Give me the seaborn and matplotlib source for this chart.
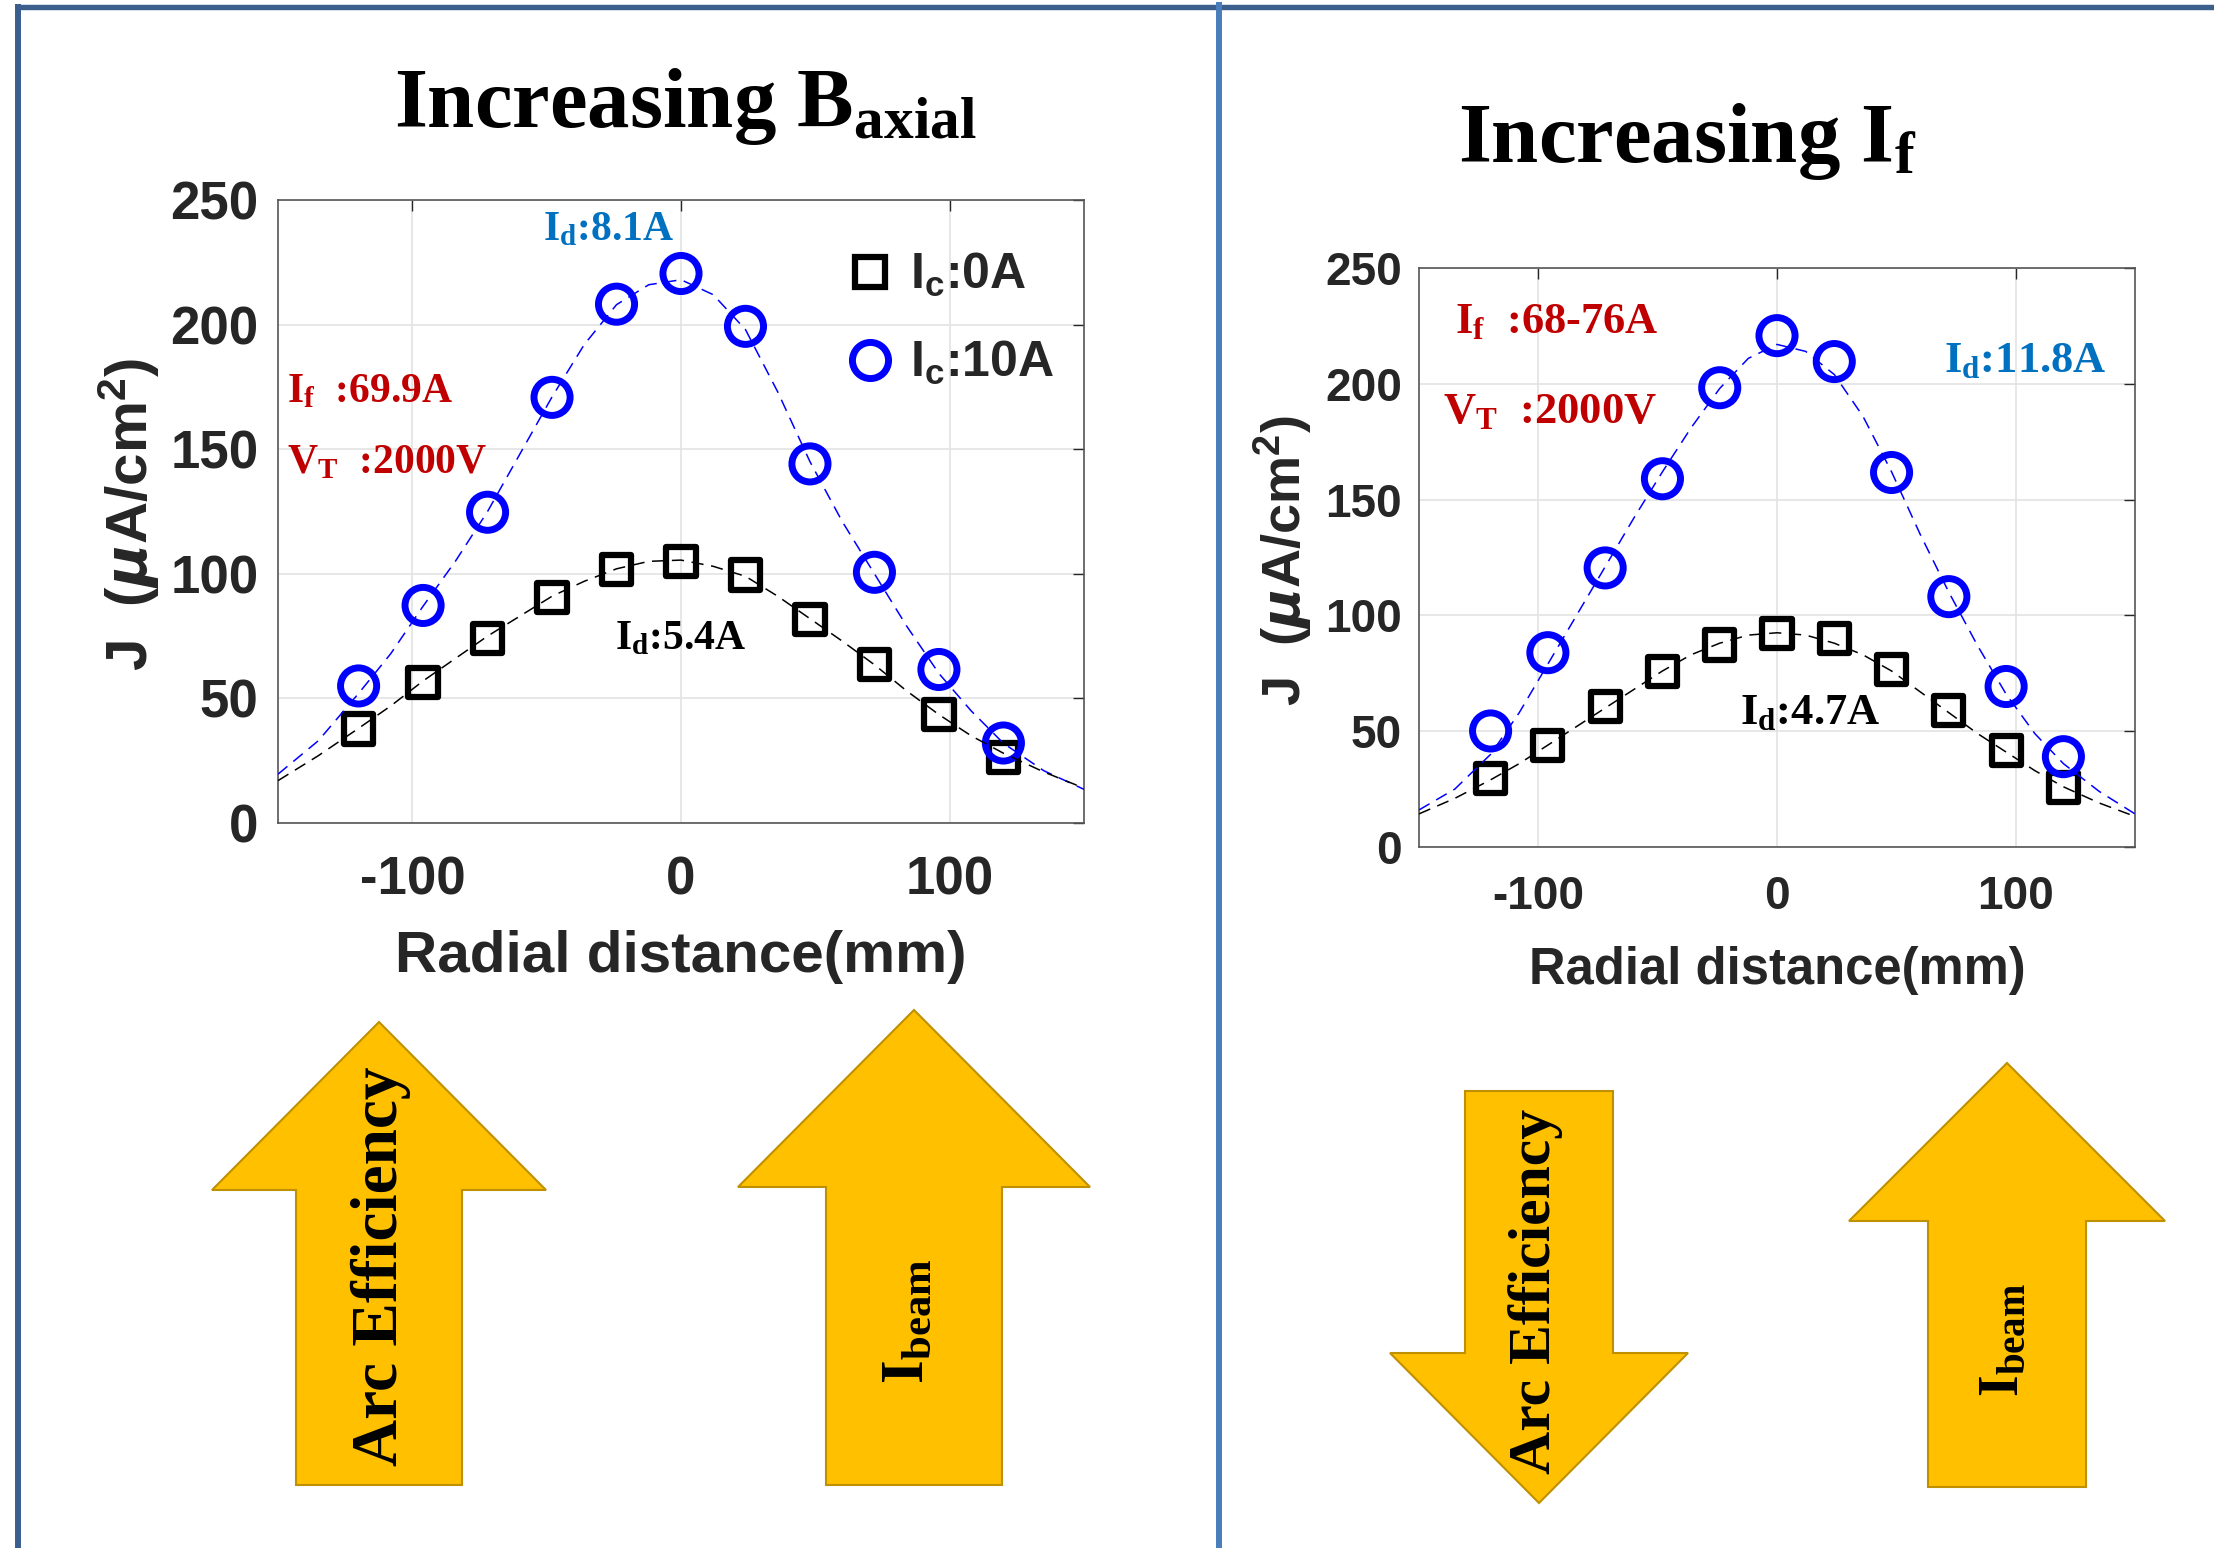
#!/usr/bin/env python3
"""
J radial profiles (Ic = 0A / 10A) for increasing B_axial and increasing I_f,
with the trend arrows underneath.
"""
import seaborn as sns
import matplotlib.pyplot as plt
from matplotlib.patches import Polygon
from matplotlib.lines import Line2D

# measured points (mm, uA/cm2)
radial = [-120, -96, -72, -48, -24, 0, 24, 48, 72, 96, 120]
left_ic0 = [37.7, 56.3, 74.1, 90.6, 101.8, 105.1, 99.5, 81.7, 63.6, 43.5, 26.2]
left_ic10 = [55.0, 87.3, 124.7, 170.8, 208.2, 220.5, 199.3, 144.1, 100.6, 61.6, 32.1]
right_ic0 = [29.4, 44.0, 60.5, 75.6, 87.2, 92.1, 89.9, 76.5, 59.1, 41.8, 25.6]
right_ic10 = [50.1, 83.9, 120.5, 159.0, 198.3, 220.8, 209.6, 161.7, 108.1, 69.3, 39.0]

# fitted curves
fit_x = [-150, -135, -120, -108, -96, -84, -72, -60, -48, -36, -24, -12, 0,
         12, 24, 36, 48, 60, 72, 84, 96, 108, 120, 135, 150]
left_fit_ic10 = [19.6, 33, 52, 68, 87, 105, 125, 148, 171, 192, 208, 216, 218,
                 212, 198, 173, 145, 121, 100, 79, 60, 45, 32, 21, 13.5]
left_fit_ic0 = [17, 27, 38, 47, 57, 66, 75, 83, 91, 97, 102, 105, 105.5,
                103, 99, 91, 82, 73, 63.5, 53, 43.5, 35, 28, 20.5, 14]
right_fit_ic10 = [16, 25, 40, 58, 79, 100, 121, 142, 162, 181, 198, 211, 217,
                  214, 204, 186, 162, 135, 110, 87, 66, 49, 36, 24, 14.3]
right_fit_ic0 = [14.3, 21, 29, 36, 44, 52, 60, 68, 76, 83, 88, 91.5, 92.5,
                 91.5, 88, 83, 76, 67, 58, 49, 41, 33, 26, 19, 13.2]

x_ticks = [-100, 0, 100]
y_ticks = [0, 50, 100, 150, 200, 250]
legend_labels = ["I$_c$:0A", "I$_c$:10A"]

RED = "#C00000"
LBLUE = "#0070C0"
GOLD = "#FFC000"
GOLD_EDGE = "#BF9000"
SERIF = ["Liberation Serif", "DejaVu Serif"]

sns.set_style("white")
plt.rcParams["font.family"] = ["Liberation Sans", "DejaVu Sans"]
plt.rcParams["font.weight"] = "bold"
plt.rcParams["mathtext.default"] = "regular"
plt.rcParams["axes.unicode_minus"] = False

W, H = 2214, 1548
fig = plt.figure(figsize=(W / 100, H / 100), dpi=100)

# background layer in pixel coords: frame lines, arrows, titles
bg = fig.add_axes([0, 0, 1, 1], zorder=0)
bg.set_xlim(0, W)
bg.set_ylim(H, 0)
bg.axis("off")

bg.plot([18, 18], [4, H], color="#3a5f8f", lw=4.3, solid_capstyle="butt")
bg.plot([15, W], [7, 7], color="#3b5e8c", lw=3.9, solid_capstyle="butt")
bg.plot([1219, 1219], [2, H], color="#4a7ebb", lw=4.3, solid_capstyle="butt")


def up_arrow(cx, tip, head_y, head_half, shaft_half, bottom):
    pts = [(cx, tip), (cx + head_half, head_y), (cx + shaft_half, head_y),
           (cx + shaft_half, bottom), (cx - shaft_half, bottom),
           (cx - shaft_half, head_y), (cx - head_half, head_y)]
    bg.add_patch(Polygon(pts, closed=True, fc=GOLD, ec=GOLD_EDGE, lw=1.5))


def down_arrow(cx, top, head_y, head_half, shaft_half, tip):
    pts = [(cx - shaft_half, top), (cx + shaft_half, top),
           (cx + shaft_half, head_y), (cx + head_half, head_y), (cx, tip),
           (cx - head_half, head_y), (cx - shaft_half, head_y)]
    bg.add_patch(Polygon(pts, closed=True, fc=GOLD, ec=GOLD_EDGE, lw=1.5))


up_arrow(379, 1022, 1190, 167, 83, 1485)
up_arrow(914, 1010, 1187, 176, 88, 1485)
down_arrow(1539, 1091, 1353, 149, 74, 1503)
up_arrow(2007, 1063, 1221, 158, 79, 1487)

bg.text(381, 1266, "Arc Efficiency", rotation=90, ha="center", va="center",
        family=SERIF, fontsize=47, fontweight="bold", color="black")
bg.text(908, 1321, "I$_{beam}$", rotation=90, ha="center", va="center",
        family=SERIF, fontsize=44, fontweight="bold", color="black")
bg.text(1536, 1291, "Arc Efficiency", rotation=90, ha="center", va="center",
        family=SERIF, fontsize=43, fontweight="bold", color="black")
bg.text(2004, 1340, "I$_{beam}$", rotation=90, ha="center", va="center",
        family=SERIF, fontsize=40, fontweight="bold", color="black")

bg.text(685, 127, "Increasing B$_{axial}$", ha="center", va="baseline",
        family=SERIF, fontsize=61, fontweight="bold", color="black")
bg.text(1687, 162, "Increasing I$_f$", ha="center", va="baseline",
        family=SERIF, fontsize=61, fontweight="bold", color="black")


def draw_panel(ax, ic0, ic10, fit0, fit10, fs, lab_fs, ylab_fs, xl_y, yl_x):
    ax.set_facecolor("white")
    ax.grid(True, color="#e3e3e3", lw=1.2)
    ax.set_axisbelow(True)

    sns.scatterplot(x=radial, y=ic0, ax=ax, marker="s", s=21 ** 2, color="black", zorder=3)
    sq = ax.collections[-1]
    sq.set_facecolor("none")
    sq.set_edgecolor("black")
    sq.set_linewidth(4.5)

    sns.scatterplot(x=radial, y=ic10, ax=ax, marker="o", s=26 ** 2, color="blue", zorder=4)
    ci = ax.collections[-1]
    ci.set_facecolor("none")
    ci.set_edgecolor("blue")
    ci.set_linewidth(5)

    sns.lineplot(x=fit_x, y=fit10, ax=ax, color="blue", lw=1.1,
                 linestyle=(0, (8, 5)), zorder=5)
    sns.lineplot(x=fit_x, y=fit0, ax=ax, color="black", lw=1.1,
                 linestyle=(0, (8, 5)), zorder=5)

    ax.set_xlim(-150, 150)
    ax.set_ylim(0, 250)
    ax.set_xticks(x_ticks)
    ax.set_yticks(y_ticks)
    ax.tick_params(axis="both", direction="in", length=8, width=1,
                   top=True, right=True, labelsize=fs,
                   colors="#262626")
    ax.tick_params(axis="x", pad=fs * 0.62)
    ax.tick_params(axis="y", pad=fs * 0.37)
    for s in ax.spines.values():
        s.set_color("#555555")
        s.set_linewidth(1.2)
    ax.set_xlabel("")
    ax.set_ylabel("")
    ax.text(0.5, xl_y, "Radial distance(mm)", transform=ax.transAxes,
            ha="center", va="center", fontsize=lab_fs, color="#262626")
    ax.text(yl_x, 0.495, "J  ($\\mathit{\\mu}$A/cm$^2$)", transform=ax.transAxes,
            rotation=90, ha="center", va="center", fontsize=ylab_fs, color="#262626")


ax1 = fig.add_axes([278 / W, 1 - 823 / H, 806 / W, 623 / H], zorder=2)
draw_panel(ax1, left_ic0, left_ic10, left_fit_ic0, left_fit_ic10, 38, 42, 42, -0.215, -0.185)

ax2 = fig.add_axes([1419 / W, 1 - 847 / H, 716 / W, 579 / H], zorder=2)
draw_panel(ax2, right_ic0, right_ic10, right_fit_ic0, right_fit_ic10, 33, 36.5, 39, -0.214, -0.19)

# annotations
ax1.text(-27, 238, "I$_d$:8.1A", ha="center", va="center", family=SERIF,
         fontsize=30, fontweight="bold", color=LBLUE)
ax1.text(-146.6, 173, "I$_f$  :69.9A", ha="left", va="center", family=SERIF,
         fontsize=30, fontweight="bold", color=RED)
ax1.text(-146.6, 144.5, "V$_T$  :2000V", ha="left", va="center", family=SERIF,
         fontsize=30, fontweight="bold", color=RED)
ax1.text(0, 73.7, "I$_d$:5.4A", ha="center", va="center", family=SERIF,
         fontsize=30, fontweight="bold", color="black")

ax2.text(-135, 226.7, "I$_f$  :68-76A", ha="left", va="center", family=SERIF,
         fontsize=32, fontweight="bold", color=RED)
ax2.text(-140, 187.8, "V$_T$  :2000V", ha="left", va="center", family=SERIF,
         fontsize=32, fontweight="bold", color=RED)
ax2.text(70, 210, "I$_d$:11.8A", ha="left", va="center", family=SERIF,
         fontsize=32, fontweight="bold", color=LBLUE)
ax2.text(13.8, 57.8, "I$_d$:4.7A", ha="center", va="center", family=SERIF,
         fontsize=32, fontweight="bold", color="black")

# legend (left panel only)
handles = [
    Line2D([], [], marker="s", ls="", mfc="none", mec="black", mew=4.5, ms=21),
    Line2D([], [], marker="o", ls="", mfc="none", mec="blue", mew=5, ms=26),
]
ax1.legend(handles, legend_labels, loc="upper right", bbox_to_anchor=(0.963, 0.918),
           frameon=False, fontsize=36, handlelength=1.0, handletextpad=0.3,
           labelspacing=0.8, borderpad=0, borderaxespad=0)

fig.savefig("out.png", dpi=100)
